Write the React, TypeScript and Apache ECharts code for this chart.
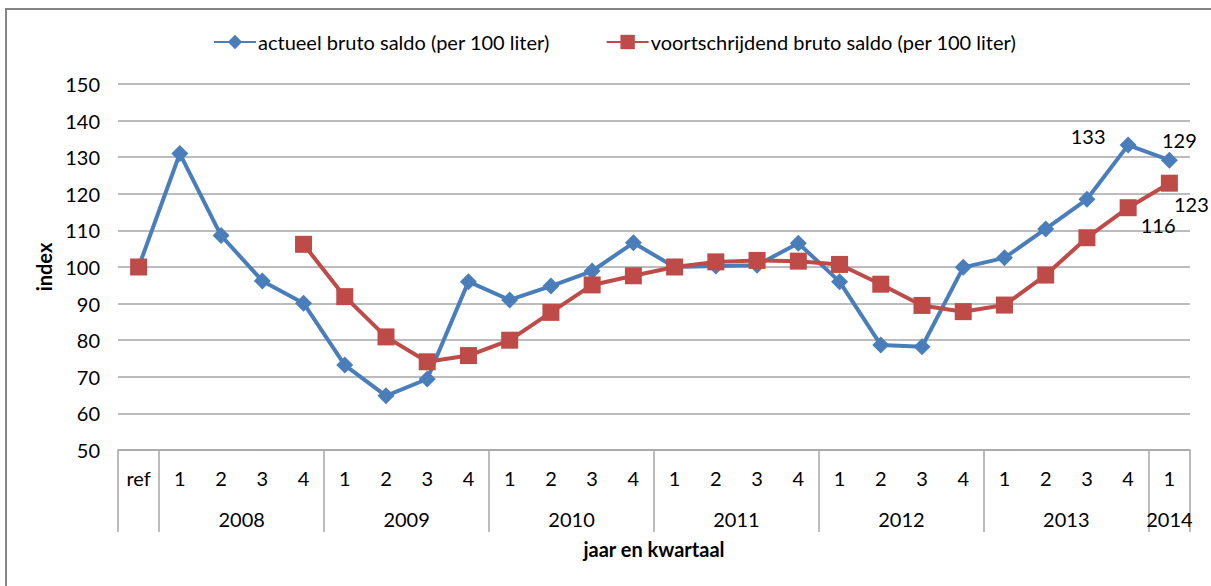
import React, { useEffect, useRef } from "react";
import * as echarts from "echarts";

const quarterLabels = [
  "ref",
  "1", "2", "3", "4",
  "1", "2", "3", "4",
  "1", "2", "3", "4",
  "1", "2", "3", "4",
  "1", "2", "3", "4",
  "1", "2", "3", "4",
  "1",
];
const years = ["2008", "2009", "2010", "2011", "2012", "2013", "2014"];
const quartersPerYear = [4, 4, 4, 4, 4, 4, 1];
const refCount = 1;

const actueel = [
  100, 131, 108.6, 96.2, 90.1,
  73.2, 64.8, 69.4, 96,
  91, 94.8, 98.9, 106.6,
  100, 100.3, 100.5, 106.5,
  96, 78.7, 78.2, 99.9,
  102.5, 110.4, 118.5, 133.3,
  129.2,
];
const voortschrijdend = [
  100, null, null, null, 106.2,
  91.9, 80.9, 74.1, 75.8,
  80, 87.6, 95.1, 97.6,
  100, 101.4, 101.8, 101.6,
  100.7, 95.3, 89.5, 87.8,
  89.6, 97.8, 108, 116.2,
  122.9,
];

const seriesNames = [
  "actueel bruto saldo (per 100 liter)",
  "voortschrijdend bruto saldo (per 100 liter)",
];

const FONT = "Lato";
const FS = 20;

export default function App() {
  const ref = useRef<HTMLDivElement>(null);
  useEffect(() => {
    if (!ref.current) return;
    const chart = echarts.init(ref.current, undefined, { renderer: "svg" });

    const nHalf = quarterLabels.length * 2 + 1;
    const yearAxisData: string[] = new Array(nHalf).fill("");
    const boundaries = new Set<number>([0, refCount * 2]);
    let pos = refCount;
    years.forEach((y, i) => {
      const n = quartersPerYear[i];
      const centre = Math.round((pos + n / 2) * 2);
      yearAxisData[centre] = y;
      pos += n;
      boundaries.add(pos * 2);
    });

    const labelStyle = { fontFamily: FONT, fontSize: FS, color: "#000" };

    const blueData = actueel.map((v, i) => {
      if (i === 24) return { value: v, label: { show: true, formatter: "133", position: "inside", offset: [-40, -9], ...labelStyle } };
      if (i === 25) return { value: v, label: { show: true, formatter: "129", position: "inside", offset: [10, -20], ...labelStyle } };
      return v;
    });
    const redData = voortschrijdend.map((v, i) => {
      if (i === 24) return { value: v, label: { show: true, formatter: "116", position: "inside", offset: [30, 17], ...labelStyle } };
      if (i === 25) return { value: v, label: { show: true, formatter: "123", position: "inside", offset: [22, 21], ...labelStyle } };
      return v;
    });

    chart.setOption({
      animation: false,
      backgroundColor: "#fff",
      textStyle: { fontFamily: FONT },
      graphic: [
        {
          type: "rect",
          shape: { x: 6, y: 9, width: 1300, height: 700 },
          style: { fill: "none", stroke: "#868686", lineWidth: 2 },
          silent: true,
        },
      ],
      legend: {
        left: 208,
        top: 27,
        itemWidth: 42,
        itemHeight: 18,
        itemGap: 56,
        textStyle: { fontFamily: FONT, fontSize: FS, color: "#000", padding: [0, 0, 0, -3] },
        data: seriesNames,
      },
      grid: { left: 118, right: 21, top: 84, bottom: 136, containLabel: false },
      xAxis: [
        {
          type: "category",
          data: quarterLabels,
          boundaryGap: true,
          axisLine: { show: true, lineStyle: { color: "#a6a6a6", width: 1.5 } },
          axisTick: { show: false },
          axisLabel: { interval: 0, margin: 18, ...labelStyle },
          name: "jaar en kwartaal",
          nameLocation: "middle",
          nameGap: 89,
          nameTextStyle: { fontFamily: FONT, fontSize: FS, fontWeight: "bold", color: "#000" },
        },
        {
          type: "category",
          data: yearAxisData,
          boundaryGap: false,
          position: "bottom",
          axisLine: { show: false },
          axisTick: {
            show: true,
            inside: false,
            length: 82,
            interval: (index: number) => boundaries.has(index),
            lineStyle: { color: "#a6a6a6", width: 1.5 },
          },
          axisLabel: { interval: 0, margin: 59, ...labelStyle },
        },
      ],
      yAxis: {
        type: "value",
        min: 50,
        max: 150,
        interval: 10,
        axisLine: { show: false },
        axisTick: { show: false },
        axisLabel: { margin: 18, ...labelStyle },
        splitLine: { lineStyle: { color: "#a6a6a6", width: 1.5 } },
        name: "index",
        nameLocation: "middle",
        nameGap: 64,
        nameTextStyle: { fontFamily: FONT, fontSize: FS, fontWeight: "bold", color: "#000" },
      },
      series: [
        {
          name: seriesNames[0],
          type: "line",
          xAxisIndex: 0,
          data: blueData,
          symbol: "diamond",
          symbolSize: 17,
          lineStyle: { color: "#4a7ebb", width: 4 },
          itemStyle: { color: "#4a7ebb" },
          connectNulls: false,
        },
        {
          name: seriesNames[1],
          type: "line",
          xAxisIndex: 0,
          data: redData,
          symbol: "rect",
          symbolSize: 17,
          lineStyle: { color: "#be4b48", width: 4 },
          itemStyle: { color: "#be4b48" },
          connectNulls: false,
        },
      ],
    });
    return () => chart.dispose();
  }, []);
  return (
    <div
      ref={ref}
      style={{ position: "fixed", left: 0, top: 0, width: 1211, height: 586 }}
    />
  );
}
